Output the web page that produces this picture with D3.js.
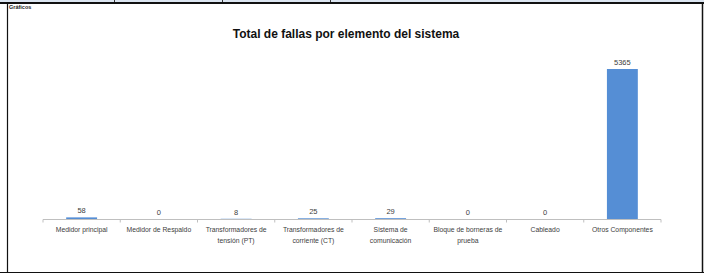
<!DOCTYPE html>
<html>
<head>
<meta charset="utf-8">
<script src="https://cdn.jsdelivr.net/npm/d3@7"></script>
<style>
  body { margin: 0; background: #fff; }
  svg { display: block; }
</style>
</head>
<body>
<svg id="chart" width="704" height="276"></svg>
<script>
// datos del grafico
var categorias = [
  "Medidor principal",
  "Medidor de Respaldo",
  "Transformadores de|tensión (PT)",
  "Transformadores de|corriente (CT)",
  "Sistema de|comunicación",
  "Bloque de borneras de|prueba",
  "Cableado",
  "Otros Componentes"
];
var fallas = [58, 0, 8, 25, 29, 0, 0, 5365];
var titulo = "Total de fallas por elemento del sistema";

var svg = d3.select("#chart");

// marco de la hoja (celdas)
svg.append("rect").attr("x", 0).attr("y", 0).attr("width", 704).attr("height", 2).attr("fill", "#dbe5f1");
[114, 222, 330].forEach(function (x) {
  svg.append("line").attr("x1", x + 0.5).attr("x2", x + 0.5).attr("y1", 0).attr("y2", 2)
    .attr("stroke", "#333").attr("stroke-width", 1);
});
svg.append("line").attr("x1", 0).attr("x2", 704).attr("y1", 3).attr("y2", 3)
  .attr("stroke", "#111").attr("stroke-width", 2);
svg.append("line").attr("x1", 7.5).attr("x2", 7.5).attr("y1", 3).attr("y2", 273)
  .attr("stroke", "#111").attr("stroke-width", 1.2);
svg.append("line").attr("x1", 702.5).attr("x2", 702.5).attr("y1", 3).attr("y2", 273)
  .attr("stroke", "#111").attr("stroke-width", 1.5);
svg.append("line").attr("x1", 0).attr("x2", 704).attr("y1", 272.5).attr("y2", 272.5)
  .attr("stroke", "#111").attr("stroke-width", 1.2);

svg.append("text").attr("x", 9).attr("y", 9)
  .attr("font-family", "Liberation Sans, Arial, sans-serif").attr("font-size", 5.5)
  .attr("font-weight", "bold").attr("fill", "#222").text("Gráficos");

// titulo
svg.append("text").attr("x", 346).attr("y", 38).attr("text-anchor", "middle")
  .attr("font-family", "Liberation Sans, Arial, sans-serif").attr("font-size", 12)
  .attr("font-weight", "bold").attr("fill", "#111").text(titulo);

// escalas
var x = d3.scaleBand().domain(d3.range(categorias.length)).range([43, 661]).paddingInner(0.6).paddingOuter(0.3);
var y = d3.scaleLinear().domain([0, 6000]).range([219, 219 - 6000 * 150 / 5365]);

var g = svg.append("g");

// barras
g.selectAll("rect.bar").data(fallas).enter().append("rect")
  .attr("class", "bar")
  .attr("x", function (d, i) { return x(i); })
  .attr("width", x.bandwidth())
  .attr("y", function (d) { return y(d); })
  .attr("height", function (d) { return y(0) - y(d); })
  .attr("fill", "#558ed5");

// eje x
var paso = (661 - 43) / categorias.length;
g.append("line").attr("x1", 43).attr("x2", 661).attr("y1", y(0) + 0.5).attr("y2", y(0) + 0.5)
  .attr("stroke", "#bfbfbf").attr("stroke-width", 1);
g.selectAll("line.tick").data(d3.range(categorias.length + 1)).enter().append("line")
  .attr("class", "tick")
  .attr("x1", function (d) { return 43 + d * paso; })
  .attr("x2", function (d) { return 43 + d * paso; })
  .attr("y1", y(0) + 0.5).attr("y2", y(0) + 3.5)
  .attr("stroke", "#bfbfbf").attr("stroke-width", 1);

// etiquetas de valores
g.selectAll("text.valor").data(fallas).enter().append("text")
  .attr("class", "valor")
  .attr("x", function (d, i) { return x(i) + x.bandwidth() / 2; })
  .attr("y", function (d) { return y(d) - 4; })
  .attr("text-anchor", "middle")
  .attr("font-family", "Liberation Sans, Arial, sans-serif").attr("font-size", 7.5)
  .attr("fill", "#404040")
  .text(function (d) { return d; });

// etiquetas de categorias
var etiquetas = g.selectAll("text.cat").data(categorias).enter().append("text")
  .attr("class", "cat")
  .attr("text-anchor", "middle")
  .attr("font-family", "Liberation Sans, Arial, sans-serif").attr("font-size", 6.8)
  .attr("fill", "#404040");
etiquetas.each(function (d, i) {
  var lineas = d.split("|");
  var t = d3.select(this);
  lineas.forEach(function (l, k) {
    t.append("tspan").attr("x", x(i) + x.bandwidth() / 2).attr("y", 232 + k * 10.5).text(l);
  });
});
</script>
</body>
</html>
